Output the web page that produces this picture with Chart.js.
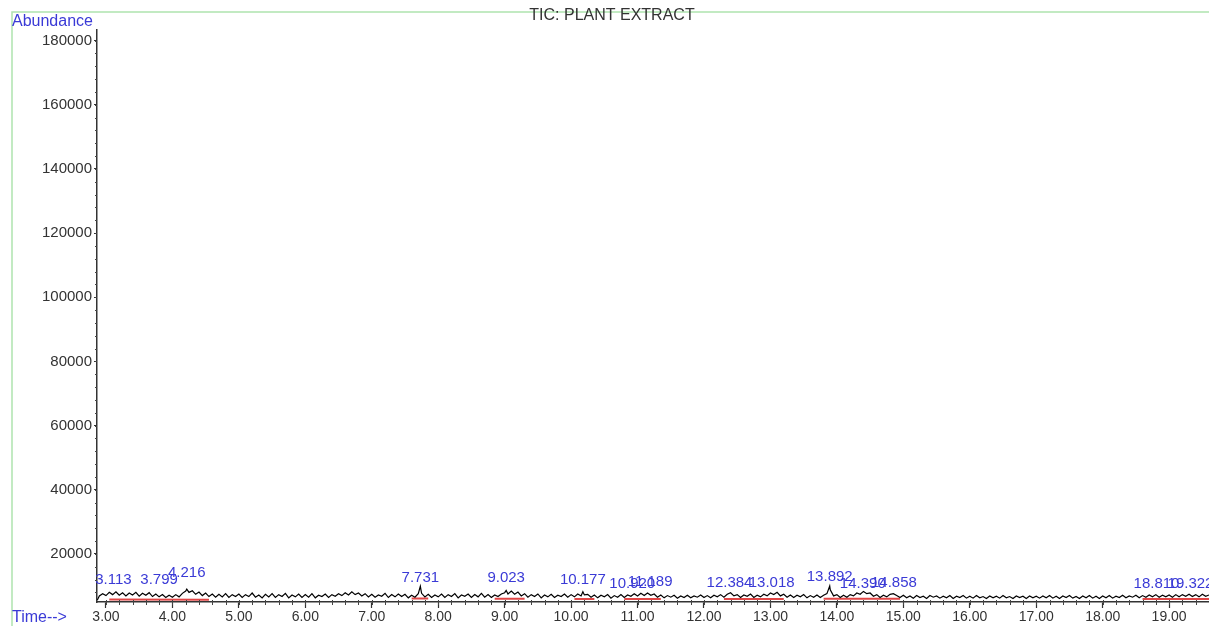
<!DOCTYPE html>
<html>
<head>
<meta charset="utf-8">
<script src="https://cdn.jsdelivr.net/npm/chart.js@4/dist/chart.umd.min.js"></script>
<style>
html,body{margin:0;padding:0;background:#fff;}
#wrap{width:1209px;height:626px;position:relative;}
</style>
</head>
<body>
<div id="wrap"><canvas id="c" width="1209" height="626"></canvas></div>
<script>
// ---- data ----
const traceTimes = [
2.87,2.90,2.95,
3.00,3.05,3.10,3.15,3.20,3.25,3.30,3.35,3.40,3.45,3.50,3.55,3.60,3.65,3.70,3.75,3.80,3.85,3.90,3.95,
4.00,4.05,4.10,4.15,4.20,4.216,4.25,4.30,4.35,4.40,4.45,4.50,4.55,4.60,4.65,4.70,4.75,4.80,4.85,4.90,4.95,
5.00,5.05,5.10,5.15,5.20,5.25,5.30,5.35,5.40,5.45,5.50,5.55,5.60,5.65,5.70,5.75,5.80,5.85,5.90,5.95,
6.00,6.05,6.10,6.15,6.20,6.25,6.30,6.35,6.40,6.45,6.50,6.55,6.60,6.65,6.70,6.75,6.80,6.85,6.90,6.95,
7.00,7.05,7.10,7.15,7.20,7.25,7.30,7.35,7.40,7.45,7.50,7.55,7.60,7.65,7.70,7.731,7.75,7.80,7.85,7.90,7.95,
8.00,8.05,8.10,8.15,8.20,8.25,8.30,8.35,8.40,8.45,8.50,8.55,8.60,8.65,8.70,8.75,8.80,8.85,8.90,8.95,
9.00,9.023,9.05,9.10,9.15,9.20,9.25,9.30,9.35,9.40,9.45,9.50,9.55,9.60,9.65,9.70,9.75,9.80,9.85,9.90,9.95,
10.00,10.05,10.10,10.15,10.177,10.20,10.25,10.30,10.35,10.40,10.45,10.50,10.55,10.60,10.65,10.70,10.75,10.80,10.85,10.90,10.95,
11.00,11.05,11.10,11.15,11.20,11.25,11.30,11.35,11.40,11.45,11.50,11.55,11.60,11.65,11.70,11.75,11.80,11.85,11.90,11.95,
12.00,12.05,12.10,12.15,12.20,12.25,12.30,12.35,12.40,12.45,12.50,12.55,12.60,12.65,12.70,12.75,12.80,12.85,12.90,12.95,
13.00,13.05,13.10,13.15,13.20,13.25,13.30,13.35,13.40,13.45,13.50,13.55,13.60,13.65,13.70,13.75,13.80,13.85,13.892,13.90,13.95,
14.00,14.05,14.10,14.15,14.20,14.25,14.30,14.35,14.40,14.45,14.50,14.55,14.60,14.65,14.70,14.75,14.80,14.85,14.90,14.95,
15.00,15.05,15.10,15.15,15.20,15.25,15.30,15.35,15.40,15.45,15.50,15.55,15.60,15.65,15.70,15.75,15.80,15.85,15.90,15.95,
16.00,16.05,16.10,16.15,16.20,16.25,16.30,16.35,16.40,16.45,16.50,16.55,16.60,16.65,16.70,16.75,16.80,16.85,16.90,16.95,
17.00,17.05,17.10,17.15,17.20,17.25,17.30,17.35,17.40,17.45,17.50,17.55,17.60,17.65,17.70,17.75,17.80,17.85,17.90,17.95,
18.00,18.05,18.10,18.15,18.20,18.25,18.30,18.35,18.40,18.45,18.50,18.55,18.60,18.65,18.70,18.75,18.80,18.85,18.90,18.95,
19.00,19.05,19.10,19.15,19.20,19.25,19.30,19.35,19.40,19.45,19.50,19.55,19.60
];
const traceAbundance = [
5600,6900,7600,
7000,8000,7300,8200,7100,7900,6900,7800,7200,8000,6800,7700,7100,7900,6700,7500,6600,7300,6400,7100,
6500,7300,6600,7700,8400,9000,8000,8500,7400,8100,7000,7800,6700,7500,6500,7400,6600,7600,6400,7300,6700,
7500,6400,7300,6700,7800,6500,7200,6300,7400,6600,7600,6400,7300,6700,7700,6300,7200,6600,7500,6400,
7300,6500,7600,6300,7100,6700,7500,6400,7300,6800,7600,7000,7900,7200,8200,7300,7800,6900,7600,6600,
7400,6500,7200,6800,7700,6400,7300,6600,7500,6700,7400,6300,7100,6500,7600,9900,7700,6600,7400,6400,7200,
6600,7500,6400,7300,6700,7600,6300,7200,6800,7500,6400,7300,6600,7700,6500,7300,6400,7200,6700,7500,
7900,8600,7500,8400,7400,8100,6900,7600,6500,7300,6700,7500,6300,7200,6600,7400,6400,7100,6700,7500,6500,
7300,6600,7500,6900,8200,7200,7400,6500,7200,6300,7100,6600,7300,6200,7000,6500,7300,6400,7200,6800,7600,
6900,7700,7000,7800,7100,7500,6500,7200,6300,7000,6500,7100,6200,6900,6400,7100,6300,6900,6500,7200,
6400,7000,6300,7100,6600,7300,6500,7400,7900,6900,7300,6400,7200,6800,7500,6400,7100,6600,7400,6900,
7800,7300,8000,6900,7400,6500,7200,6400,7100,6600,7300,6300,7000,6500,7200,6400,7100,7600,10000,8800,6900,
7300,6400,7100,6500,7300,6900,7800,7400,8300,7600,7800,6800,7300,6400,7100,6600,7400,7600,7000,6400,
7100,6300,6900,6200,7000,6400,6800,6100,7000,6500,6900,6200,6800,6300,7000,6100,6800,6400,7000,6200,
6800,6200,7000,6300,6700,6100,6900,6300,6800,6200,7000,6300,6700,6100,6900,6400,6800,6100,6900,6300,
6800,6200,6900,6300,7000,6200,6800,6100,6900,6400,7000,6200,6700,6100,6900,6300,7000,6200,6800,6100,
6900,6300,7000,6200,6800,6400,7100,6300,6900,6500,7100,6300,7000,6500,7200,6600,7300,6500,7100,6600,
7200,6500,7300,6600,7300,6800,7400,6700,7300,6600,7400,6800,7200
];
// integration baselines (null = gap between peaks)
const baselineTimes     = [3.05,4.55,null,7.60,7.85,null,8.85,9.30,null,10.05,10.35,null,10.80,11.35,null,12.30,13.20,null,13.80,14.95,null,18.60,19.60];
const baselineAbundance = [5800,5700,null,6100,6100,null,6000,6000,null,5900,5900,null,5900,5900,null,5900,5900,null,6000,6000,null,5900,5900];
// peak annotations: retention time and level of the label
const peakTimes       = [3.113,3.799,4.216,7.731,9.023,10.177,10.920,11.189,12.384,13.018,13.892,14.390,14.858,18.810,19.322];
const peakLabelLevels = [11830,11830,14010,12450,12450,11830,10580,11210,10890,10890,12760,10580,10890,10580,10580];
// axis ticks
const xTicks = [3,4,5,6,7,8,9,10,11,12,13,14,15,16,17,18,19];
const yTicks = [20000,40000,60000,80000,100000,120000,140000,160000,180000];
const xMinorStep = 0.2;
const yMinorStep = 4000;
const xRange = [2.865, 19.6];
const yRange = [5000, 183300];
const chartTitle = 'TIC: PLANT EXTRACT';
const yAxisName = 'Abundance';
const xAxisName = 'Time-->';

// ---- drawing ----
const FONT = '"Liberation Sans", Arial, sans-serif';
const BLUE = 'rgb(58,58,214)';

const tracePts = traceTimes.map((t, i) => ({x: t, y: traceAbundance[i]}));
const basePts = baselineTimes.map((t, i) => (t === null ? {x: NaN, y: null} : {x: t, y: baselineAbundance[i]}));

const decor = {
  id: 'decor',
  beforeDraw(chart) {
    const ctx = chart.ctx;
    ctx.save();
    ctx.fillStyle = '#fff';
    ctx.fillRect(0, 0, chart.width, chart.height);
    ctx.strokeStyle = 'rgb(175,228,175)';
    ctx.lineWidth = 1.5;
    ctx.beginPath();
    ctx.moveTo(12, chart.height + 2);
    ctx.lineTo(12, 12);
    ctx.lineTo(chart.width + 2, 12);
    ctx.stroke();
    ctx.restore();
  },
  afterDraw(chart) {
    const ctx = chart.ctx;
    const xs = chart.scales.x, ys = chart.scales.y;
    const area = chart.chartArea;
    ctx.save();
    // minor ticks
    ctx.strokeStyle = '#444';
    ctx.lineWidth = 1;
    ctx.beginPath();
    for (let v = Math.ceil(xRange[0] / xMinorStep) * xMinorStep; v <= xRange[1]; v += xMinorStep) {
      const px = Math.round(xs.getPixelForValue(v)) + 0.5;
      ctx.moveTo(px, area.bottom - 2);
      ctx.lineTo(px, area.bottom + 3);
    }
    for (let v = Math.ceil(yRange[0] / yMinorStep) * yMinorStep; v <= yRange[1]; v += yMinorStep) {
      const py = Math.round(ys.getPixelForValue(v)) + 0.5;
      ctx.moveTo(area.left, py);
      ctx.lineTo(area.left - 2, py);
    }
    ctx.stroke();
    // peak labels
    ctx.fillStyle = BLUE;
    ctx.font = '15px ' + FONT;
    ctx.textAlign = 'center';
    ctx.textBaseline = 'middle';
    peakTimes.forEach((t, i) => {
      ctx.fillText(t.toFixed(3), xs.getPixelForValue(t), ys.getPixelForValue(peakLabelLevels[i]));
    });
    // axis names
    ctx.font = '16px ' + FONT;
    ctx.textAlign = 'left';
    ctx.fillText(yAxisName, 12, 22);
    ctx.fillText(xAxisName, 12, 618);
    // title
    ctx.fillStyle = '#333';
    ctx.textAlign = 'center';
    ctx.fillText(chartTitle, 612, 16);
    ctx.restore();
  }
};

new Chart(document.getElementById('c'), {
  type: 'line',
  data: {
    datasets: [
      {data: tracePts, borderColor: '#000', borderWidth: 1.2, pointRadius: 0, tension: 0, fill: false, order: 1},
      {data: basePts, borderColor: 'rgb(225,70,70)', borderWidth: 2, pointRadius: 0, tension: 0, fill: false, spanGaps: false, order: 2}
    ]
  },
  options: {
    responsive: false,
    animation: false,
    events: [],
    layout: {padding: {top: 30, right: 0, left: 0, bottom: 0}},
    plugins: {legend: {display: false}, tooltip: {enabled: false}, title: {display: false}},
    scales: {
      x: {
        type: 'linear', min: xRange[0], max: xRange[1],
        afterBuildTicks: s => { s.ticks = xTicks.map(v => ({value: v})); },
        afterFit: s => { s.height = 24; },
        grid: {drawOnChartArea: false, tickLength: 6, color: '#333', tickWidth: 1.2},
        border: {display: true, color: '#333', width: 1.5},
        ticks: {autoSkip: false, maxRotation: 0, padding: 1, color: '#333', font: {size: 14, family: FONT},
                callback: v => Number(v).toFixed(2)}
      },
      y: {
        type: 'linear', min: yRange[0], max: yRange[1],
        afterBuildTicks: s => { s.ticks = yTicks.map(v => ({value: v})); },
        afterFit: s => { s.width = 97; },
        grid: {drawOnChartArea: false, tickLength: 3, color: '#333', tickWidth: 1.2},
        border: {display: true, color: '#333', width: 1.5},
        ticks: {autoSkip: false, padding: 2, color: '#333', font: {size: 15, family: FONT},
                callback: v => String(v)}
      }
    }
  },
  plugins: [decor]
});
</script>
</body>
</html>
